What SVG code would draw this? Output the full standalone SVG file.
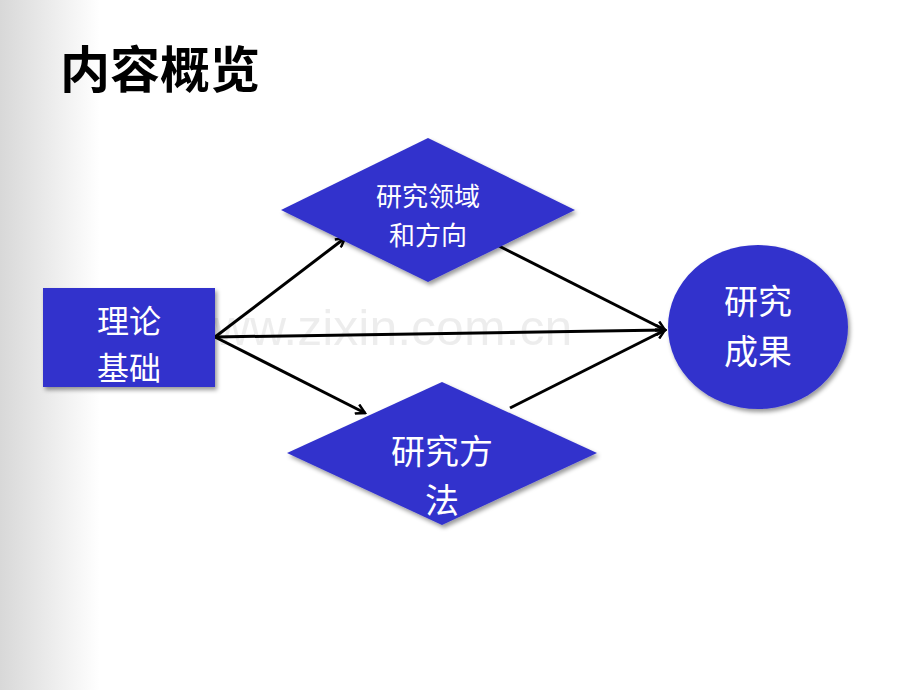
<svg xmlns="http://www.w3.org/2000/svg" width="920" height="690" viewBox="0 0 920 690">
<defs>
<linearGradient id="bg" x1="0" y1="0" x2="1" y2="0">
<stop offset="0" stop-color="#d8d8d8"/><stop offset="1" stop-color="#ffffff"/>
</linearGradient>
<marker id="ah" markerWidth="12" markerHeight="12" refX="10" refY="6" orient="auto" markerUnits="userSpaceOnUse">
<path d="M1,1 L10,6 L1,11" fill="none" stroke="#000" stroke-width="2.5"/>
</marker>
<filter id="sh"><feDropShadow dx="2" dy="3" stdDeviation="2" flood-opacity="0.4"/></filter>
<style>
.n{fill:#3333cc;filter:url(#sh)}
.t{font-family:"Liberation Sans","Noto Sans CJK SC",sans-serif;fill:#fff;text-anchor:middle}
.c{stroke:#000;stroke-width:3;fill:none;marker-end:url(#ah)}
</style>
</defs>
<rect width="920" height="690" fill="#fff"/>
<rect width="100" height="690" fill="url(#bg)"/>
<text x="60" y="88" font-family="Liberation Sans,Noto Sans CJK SC,sans-serif" font-size="50" font-weight="bold" fill="#000">内容概览</text>
<text x="375" y="345" font-family="Liberation Sans,sans-serif" font-size="50" fill="#000" fill-opacity="0.07" text-anchor="middle">www.zixin.com.cn</text>
<g id="connectors">
<line class="c" x1="215" y1="337" x2="345" y2="238"/>
<line class="c" x1="215" y1="337" x2="665" y2="330"/>
<line class="c" x1="215" y1="337" x2="365" y2="413"/>
<line class="c" x1="497" y1="245" x2="665" y2="330"/>
<line class="c" x1="510" y1="408" x2="665" y2="330"/>
</g>
<g id="jichu"><rect class="n" x="43" y="288" width="172" height="99"/>
<text class="t" font-size="32" x="129" y="333">理论</text><text class="t" font-size="32" x="129" y="380">基础</text></g>
<g id="lingyu"><polygon class="n" points="428,138 575,210 428,282 281,210"/>
<text class="t" font-size="26" x="428" y="206">研究领域</text><text class="t" font-size="26" x="428" y="245">和方向</text></g>
<g id="fangfa"><polygon class="n" points="442,382 597,453 442,525 287,453"/>
<text class="t" font-size="34" x="442" y="464">研究方</text><text class="t" font-size="34" x="442" y="513">法</text></g>
<g id="chengguo"><ellipse class="n" cx="758" cy="327" rx="90" ry="82"/>
<text class="t" font-size="34" x="758" y="314">研究</text><text class="t" font-size="34" x="758" y="364">成果</text></g>
</svg>
